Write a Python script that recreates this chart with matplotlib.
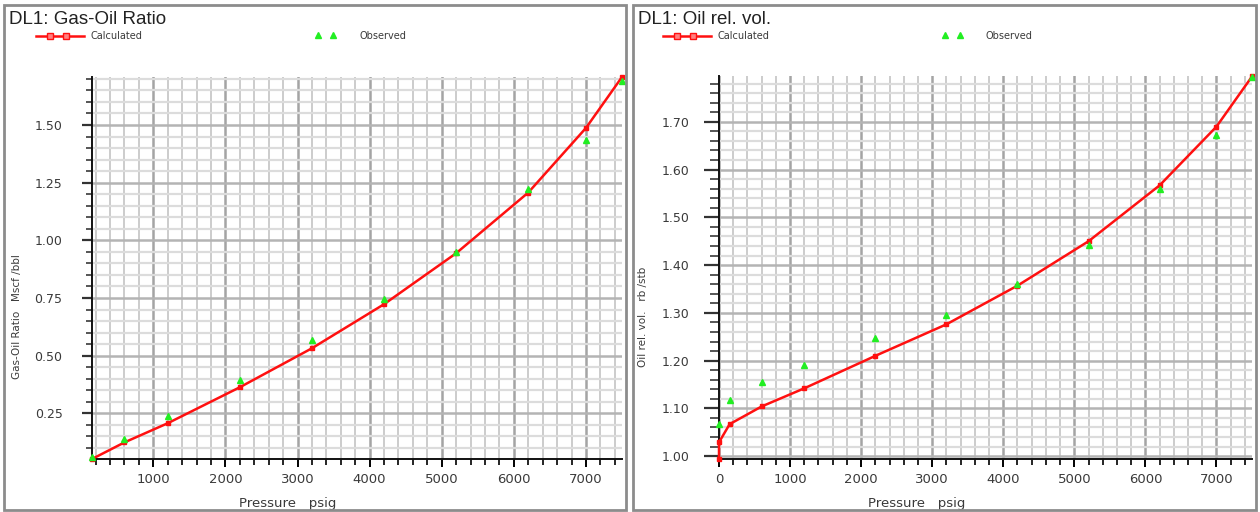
import matplotlib
matplotlib.use("Agg")
import matplotlib.pyplot as plt
from matplotlib.lines import Line2D
from matplotlib.patches import Rectangle
from matplotlib.ticker import MultipleLocator, FormatStrFormatter

# DL1 gas-oil ratio, Mscf/bbl
gor_p = [150, 600, 1200, 2200, 3200, 4200, 5200, 6200, 7000, 7500]
gor_calc = [0.052, 0.124, 0.207, 0.363, 0.532, 0.723, 0.944, 1.207, 1.487, 1.708]
gor_obs = [0.059, 0.140, 0.237, 0.393, 0.567, 0.745, 0.948, 1.224, 1.435, 1.690]

# DL1 oil relative volume, rb/stb
bo_p = [0, 0, 150, 600, 1200, 2200, 3200, 4200, 5200, 6200, 7000, 7500]
bo_calc = [0.995, 1.029, 1.067, 1.104, 1.142, 1.210, 1.276, 1.357, 1.450, 1.567, 1.690, 1.795]
bo_obs_p = [0, 150, 600, 1200, 2200, 3200, 4200, 5200, 6200, 7000, 7500]
bo_obs = [1.067, 1.117, 1.156, 1.190, 1.247, 1.295, 1.360, 1.443, 1.560, 1.673, 1.794]

W, H = 1260, 512
fig = plt.figure(figsize=(W / 100, H / 100), dpi=100)
fig.patch.set_facecolor("white")

RED = "#ff1010"
GREEN = "#22ee22"
TXT = "#3a3a3a"


def fx(px):
    return px / W


def fy(py):
    return 1 - py / H


def panel(box, frame, title, ylabel, px, calc, opx, obs, xlim, ylim,
          ymaj, ymin_step, leg, ytick_len, ypad):
    # outer gray frame of the panel
    fig.add_artist(Rectangle((fx(frame[0]), fy(frame[3])),
                             fx(frame[2] - frame[0]), (frame[3] - frame[1]) / H,
                             transform=fig.transFigure, fill=False,
                             edgecolor="#8c8c8c", lw=2))
    fig.text(fx(frame[0] + 5), fy(19), title, fontsize=13.5,
             family="Liberation Sans", color="#222222", va="center")

    # legend drawn in figure pixels
    lx = leg[0]
    fig.add_artist(Line2D([fx(lx), fx(lx + 14), fx(lx + 30), fx(lx + 48)],
                          [fy(36)] * 4, transform=fig.transFigure, color=RED,
                          lw=1.8, marker="s", markersize=4.5, markevery=[1, 2],
                          markerfacecolor="#ff8080"))
    fig.text(fx(lx + 55), fy(36), "Calculated", fontsize=7, color=TXT,
             va="center")
    fig.add_artist(Line2D([fx(leg[1]), fx(leg[1] + 15)], [fy(35)] * 2,
                          transform=fig.transFigure, ls="none", marker="^",
                          markersize=4, color=GREEN))
    fig.text(fx(leg[1] + 41), fy(36), "Observed", fontsize=7, color=TXT,
             va="center")

    ax = fig.add_axes([fx(box[0]), fy(box[3]), fx(box[2] - box[0]),
                       (box[3] - box[1]) / H])
    ax.set_xlim(*xlim)
    ax.set_ylim(*ylim)
    ax.xaxis.set_major_locator(MultipleLocator(1000))
    ax.xaxis.set_minor_locator(MultipleLocator(200))
    ax.yaxis.set_major_locator(MultipleLocator(ymaj))
    ax.yaxis.set_minor_locator(MultipleLocator(ymin_step))
    ax.yaxis.set_major_formatter(FormatStrFormatter("%.2f"))
    ax.xaxis.grid(True, which="minor", color="#c4c4c4", lw=1.2)
    ax.yaxis.grid(True, which="minor", color="#dcdcdc", lw=1.6)
    ax.xaxis.grid(True, which="major", color="#a4a4a4", lw=1.8)
    ax.yaxis.grid(True, which="major", color="#b4b4b4", lw=1.8)
    ax.set_axisbelow(True)
    for s in ["top", "right"]:
        ax.spines[s].set_visible(False)
    for s in ["left", "bottom"]:
        ax.spines[s].set_linewidth(1.4)
        ax.spines[s].set_color("#111111")
    ax.tick_params(axis="y", which="major", direction="out",
                   length=ytick_len, width=1.6, pad=ypad,
                   labelsize=9, labelcolor=TXT, color="#333333")
    ax.tick_params(axis="y", which="minor", direction="out",
                   length=ytick_len * 0.6, width=1.4, color="#555555")
    ax.tick_params(axis="x", which="major", direction="out", length=6,
                   width=1.4, pad=4, labelsize=9.5, labelcolor=TXT)
    ax.tick_params(axis="x", which="minor", direction="out", length=4,
                   width=1.2)

    ax.plot(px, calc, color=RED, lw=1.8, marker="s", markersize=3.5,
            clip_on=False, zorder=3)
    ax.plot(opx, obs, ls="none", marker="^", markersize=4, color=GREEN,
            clip_on=False, zorder=4)

    # axis titles placed in pixels from the axes corner
    bw = box[2] - box[0]
    bh = box[3] - box[1]
    ax.set_xlabel("Pressure   psig", fontsize=9.5, color=TXT)
    ax.xaxis.set_label_coords(0.37 * 1, (box[3] - 497) / bh)
    ax.set_ylabel(ylabel, fontsize=7.5, color=TXT)
    ax.yaxis.set_label_coords((leg[2] - box[0]) / bw, (box[3] - 317) / bh)
    return ax


ax1 = panel((92, 77, 622, 459), (4, 5, 626, 510), "DL1: Gas-Oil Ratio",
            "Gas-Oil Ratio   Mscf /bbl", gor_p, gor_calc, gor_p, gor_obs,
            (150, 7500), (0.052, 1.708), 0.25, 0.05, (36, 318, 22), 7.2, 14)

ax2 = panel((719, 76, 1252, 459), (633, 5, 1256, 510), "DL1: Oil rel. vol.",
            "Oil rel. vol.   rb /stb", bo_p, bo_calc, bo_obs_p, bo_obs,
            (0, 7500), (0.994, 1.796), 0.10, 0.02, (663, 945, 648), 11, 10)

fig.savefig("out.png", dpi=100, facecolor="white")
